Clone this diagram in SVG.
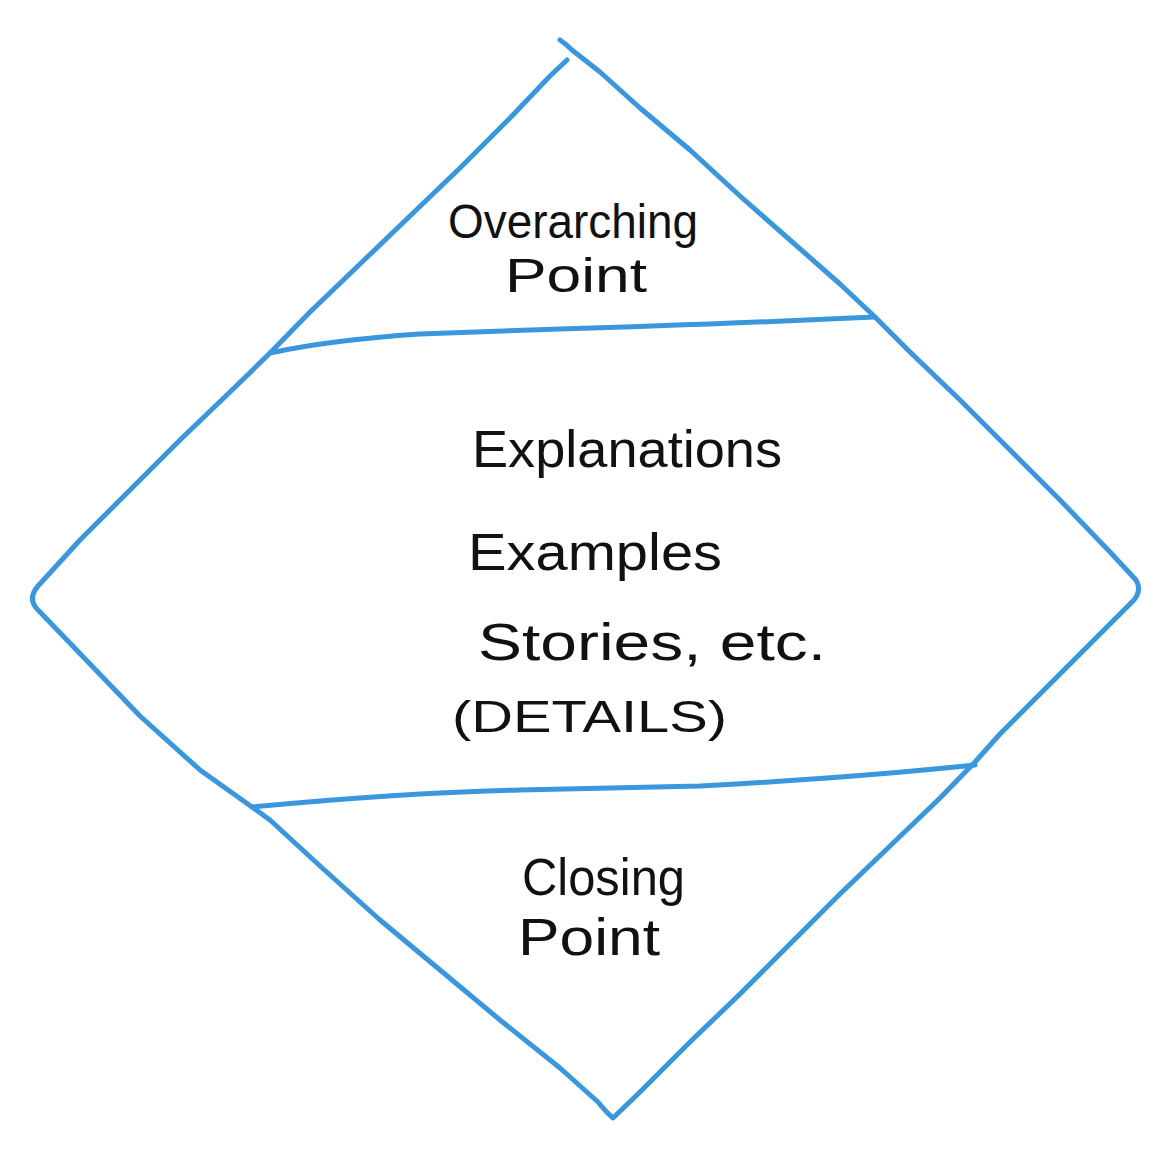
<svg xmlns="http://www.w3.org/2000/svg" width="1174" height="1156" viewBox="0 0 1174 1156">
<style>
.ln{fill:none;stroke:#3a97de;stroke-width:5;stroke-linecap:round;stroke-linejoin:round}
.t{font-family:"Liberation Sans","DejaVu Sans",sans-serif;fill:#111;font-weight:normal}
</style>
<rect width="1174" height="1156" fill="#fff"/>
<g id="outline">
<path class="ln" d="M560,40 Q566,44 572,50 L600,72 L640,108 L690,150 L740,196 L790,240 L840,284 L875,317 L910,352 L960,400 L1010,450 L1060,500 L1110,552 L1136,580 Q1142,590 1134,600 L1100,634 L1050,684 L1000,734 L975,762 L940,798 L890,846 L840,894 L790,944 L740,994 L690,1042 L640,1092 L613,1118 Q606,1112 598,1102 L560,1068 L500,1020 L440,970 L380,920 L320,866 L270,820 L252,807 L200,770 L140,716 L90,664 L40,612 Q26,600 38,586 L80,540 L130,490 L180,440 L230,392 L270,353 L310,312 L360,264 L410,216 L460,168 L510,118 L550,76 L567,60"/>
</g>
<g id="connectors">
<path class="ln" d="M270,353 Q330,340 420,334 L560,329 Q700,325 875,317"/>
<path class="ln" d="M252,807 Q400,793 520,790 L700,786 Q850,778 975,765"/>
</g>
<g id="top">
<text class="t" x="448" y="238" font-size="48" textLength="250" lengthAdjust="spacingAndGlyphs">Overarching</text>
<text class="t" x="505" y="292" font-size="48" textLength="142" lengthAdjust="spacingAndGlyphs">Point</text>
</g>
<g id="middle">
<text class="t" x="472" y="467" font-size="52" textLength="310" lengthAdjust="spacingAndGlyphs">Explanations</text>
<text class="t" x="468" y="570" font-size="52" textLength="254" lengthAdjust="spacingAndGlyphs">Examples</text>
<text class="t" x="478" y="660" font-size="52" textLength="348" lengthAdjust="spacingAndGlyphs">Stories, etc.</text>
<text class="t" x="452" y="732" font-size="44" textLength="275" lengthAdjust="spacingAndGlyphs">(DETAILS)</text>
</g>
<g id="bottom">
<text class="t" x="522" y="895" font-size="52" textLength="163" lengthAdjust="spacingAndGlyphs">Closing</text>
<text class="t" x="518" y="955" font-size="52" textLength="142" lengthAdjust="spacingAndGlyphs">Point</text>
</g>
</svg>
